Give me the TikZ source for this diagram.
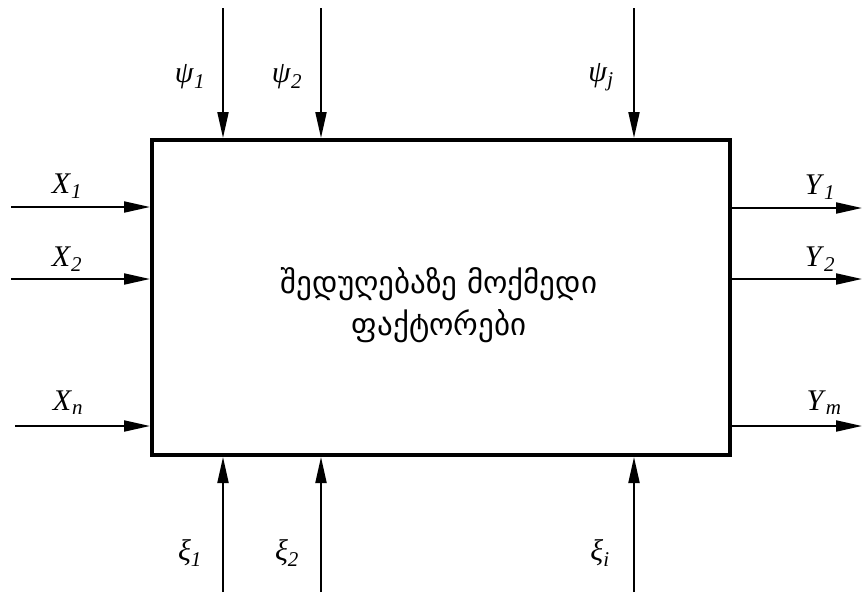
\documentclass[tikz,border=0pt]{standalone}
\usepackage{fontspec}
\setmainfont{Liberation Serif}
\newfontfamily\geofont{DejaVu Sans}
\usetikzlibrary{arrows.meta,positioning,calc}

\newcommand{\sym}[2]{\textit{#1}\textsubscript{\textit{#2}}}

\begin{document}
\begin{tikzpicture}[x=1pt,y=-1pt,
  flow/.style={line width=2pt,-{Triangle[length=26pt,width=11pt]}},
  lbl/.style={inner sep=0pt,font=\fontsize{30}{34}\selectfont}]
\useasboundingbox (0,0) rectangle (862,592);
\node[draw,line width=4pt,minimum width=578pt,minimum height=315pt,inner sep=0pt] (box) at (441,297.5) {};
\node[align=center,font=\geofont\fontsize{31}{42}\selectfont] (factors) at (439,305) {შედუღებაზე მოქმედი\\ფაქტორები};
% inputs
\coordinate (x1) at (11,207);
\coordinate (x2) at (11,279);
\coordinate (xn) at (15,426);
\draw[flow] (x1) -- (x1 -| box.west);
\draw[flow] (x2) -- (x2 -| box.west);
\draw[flow] (xn) -- (xn -| box.west);
% outputs
\coordinate (y1) at (862,208);
\coordinate (y2) at (862,279);
\coordinate (ym) at (862,426);
\draw[flow] (y1 -| box.east) -- (y1);
\draw[flow] (y2 -| box.east) -- (y2);
\draw[flow] (ym -| box.east) -- (ym);
% disturbances
\coordinate (p1) at (223,8);
\coordinate (p2) at (321,8);
\coordinate (pj) at (634,8);
\draw[flow] (p1) -- (p1 |- box.north);
\draw[flow] (p2) -- (p2 |- box.north);
\draw[flow] (pj) -- (pj |- box.north);
\coordinate (s1) at (223,592);
\coordinate (s2) at (321,592);
\coordinate (si) at (634,592);
\draw[flow] (s1) -- (s1 |- box.south);
\draw[flow] (s2) -- (s2 |- box.south);
\draw[flow] (si) -- (si |- box.south);
% labels
\node[lbl] (lx1) at (67,186) {\sym{X}{1}};
\node[lbl] (lx2) at (67,259) {\sym{X}{2}};
\node[lbl] (lxn) at (68,403) {\sym{X}{n}};
\node[lbl] (ly1) at (820,187) {\sym{Y}{1}};
\node[lbl] (ly2) at (820,259) {\sym{Y}{2}};
\node[lbl] (lym) at (824,403) {\sym{Y}{m}};
\node[lbl] (lp1) at (190,77) {\sym{ψ}{1}};
\node[lbl] (lp2) at (287,77) {\sym{ψ}{2}};
\node[lbl] (lpj) at (601,77) {\sym{ψ}{j}};
\node[lbl] (ls1) at (190,553) {\sym{ξ}{1}};
\node[lbl] (ls2) at (287,553) {\sym{ξ}{2}};
\node[lbl] (lsi) at (600,553) {\sym{ξ}{i}};
\end{tikzpicture}
\end{document}
